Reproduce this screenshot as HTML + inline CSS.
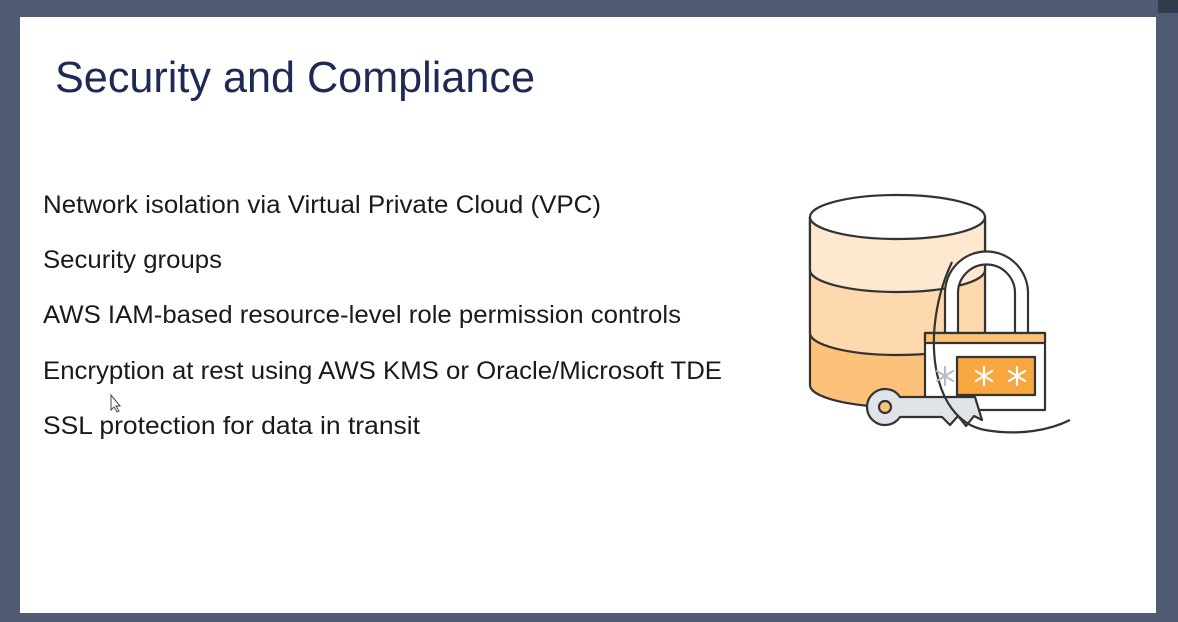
<!DOCTYPE html>
<html><head><meta charset="utf-8"><style>
html,body{margin:0;padding:0;width:1178px;height:622px;overflow:hidden;background:#4f5b73;}
svg{display:block}
</style></head><body>
<svg width="1178" height="622" viewBox="0 0 1178 622" xmlns="http://www.w3.org/2000/svg">
<rect x="0" y="0" width="1178" height="622" fill="#4f5b73"/>
<rect x="1158" y="0" width="20" height="13" fill="#323c4c"/>
<rect x="20" y="17" width="1136" height="596" fill="#ffffff"/>
<text x="55" y="92" font-family="Liberation Sans, sans-serif" font-size="44" fill="#1f2a54" textLength="480" lengthAdjust="spacingAndGlyphs">Security and Compliance</text>
<g font-family="Liberation Sans, sans-serif" font-size="25" fill="#1a1a1a">
<text x="43" y="213" textLength="558" lengthAdjust="spacingAndGlyphs">Network isolation via Virtual Private Cloud (VPC)</text>
<text x="43" y="268" textLength="179" lengthAdjust="spacingAndGlyphs">Security groups</text>
<text x="43" y="323" textLength="638" lengthAdjust="spacingAndGlyphs">AWS IAM-based resource-level role permission controls</text>
<text x="43" y="379" textLength="679" lengthAdjust="spacingAndGlyphs">Encryption at rest using AWS KMS or Oracle/Microsoft TDE</text>
<text x="43" y="434" textLength="377" lengthAdjust="spacingAndGlyphs">SSL protection for data in transit</text>
</g>
<path d="M111 395 L111 410 L114 407 L117 412 L119 411 L116 406 L120 406 Z" fill="#fff" stroke="#444" stroke-width="1"/>
<g stroke="#333" stroke-width="2.2" stroke-linejoin="round">
<path d="M810 217 L810 385 A87.5 22 0 0 0 985 385 L985 217 Z" fill="#fcc27a"/>
<path d="M810 217 L810 333 A87.5 22 0 0 0 985 333 L985 217 Z" fill="#fdd9ad"/>
<path d="M810 217 L810 270 A87.5 22 0 0 0 985 270 L985 217 Z" fill="#fee8cf"/>
<ellipse cx="897.5" cy="217" rx="87.5" ry="22" fill="#ffffff"/>
<path d="M945 335 L945 293 A41.5 41.5 0 0 1 1028 293 L1028 335 L1015 335 L1015 293 A28.5 28.5 0 0 0 958 293 L958 335 Z" fill="#ffffff"/>
<rect x="925" y="333" width="120" height="77" fill="#ffffff"/>
<rect x="925" y="333" width="120" height="10" fill="#fcc27a"/>
<rect x="957" y="357" width="78" height="38" fill="#f7a740"/>
<path d="M900 397 A18 18 0 1 0 900 417 L942 417 L950 425 L958 416 L966 426 L974 416 L982 420 L975 397 Z" fill="#e0e3e8"/>
<circle cx="885" cy="407" r="6" fill="#fcc27a"/>
<path d="M952 262 C 920 330, 930 420, 985 430 C 1020 436, 1050 430, 1070 420" fill="none"/>
</g>
<g stroke-width="2.2" stroke-linecap="round">
<g stroke="#b8bcc4" transform="translate(945,376)"><line x1="0" y1="-9" x2="0" y2="9"/><line x1="-8" y1="-5" x2="8" y2="5"/><line x1="-8" y1="5" x2="8" y2="-5"/></g>
<g stroke="#ffffff" transform="translate(984,376)"><line x1="0" y1="-9" x2="0" y2="9"/><line x1="-8" y1="-5" x2="8" y2="5"/><line x1="-8" y1="5" x2="8" y2="-5"/></g>
<g stroke="#ffffff" transform="translate(1017,376)"><line x1="0" y1="-9" x2="0" y2="9"/><line x1="-8" y1="-5" x2="8" y2="5"/><line x1="-8" y1="5" x2="8" y2="-5"/></g>
</g>
</svg>
</body></html>
